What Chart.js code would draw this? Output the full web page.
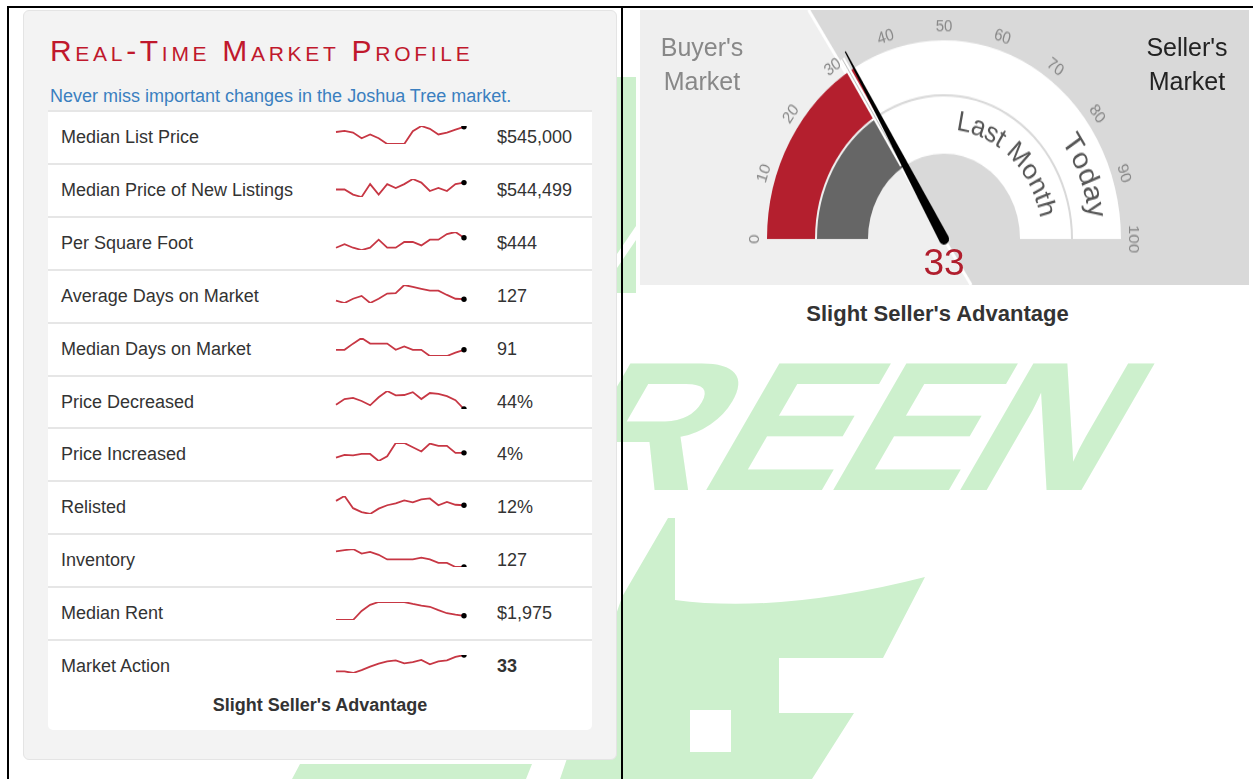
<!DOCTYPE html>
<html>
<head>
<meta charset="utf-8">
<script src="https://cdn.jsdelivr.net/npm/chart.js@4.4.1/dist/chart.umd.min.js"></script>
<style>
  body { margin: 0; width: 1253px; height: 779px; overflow: hidden; background: #fff; position: relative;
         font-family: 'Liberation Sans', Arial, sans-serif; color: #333; }
  .abs { position: absolute; }
  .line { position: absolute; background: #000; z-index: 5; }
  #panel { left: 23px; top: 10px; width: 592px; height: 748px; background: #f3f3f3; border: 1px solid #e4e4e4;
           border-radius: 6px; z-index: 2; }
  #title { left: 50px; top: 36px; font-size: 30px; line-height: 30px; color: #c0182c; font-variant: small-caps;
           letter-spacing: 3.7px; z-index: 3; white-space: nowrap; }
  #subtitle { left: 50px; top: 87px; font-size: 18px; line-height: 18px; color: #3a7fc0; z-index: 3; white-space: nowrap; }
  #card { left: 48px; top: 110px; width: 544px; height: 620px; background: #fff; border-radius: 0 0 5px 5px; z-index: 3; }
  .row { position: absolute; left: 0; width: 544px; height: 53px; border-top: 2px solid #e6e6e6; box-sizing: border-box; }
  .row .lab { position: absolute; left: 13px; top: 0; line-height: 51px; font-size: 18px; white-space: nowrap; }
  .row .val { position: absolute; left: 449px; top: 0; line-height: 51px; font-size: 18px; white-space: nowrap; }
  .row canvas { position: absolute; left: 284px; top: 10px; }
  #foot { left: 48px; width: 544px; top: 692px; text-align: center; font-size: 18px; line-height: 26px; font-weight: bold; z-index: 4; }
  #gaugeWrap { left: 640px; top: 10px; width: 609px; height: 245px; z-index: 2;
               transform: scaleY(1.12245); transform-origin: 0 0; }
  .glabel { position: absolute; width: 130px; text-align: center; font-size: 25px; line-height: 34px; z-index: 4; }
  #gval { left: 894px; top: 244px; width: 100px; text-align: center; font-size: 37px; line-height: 37px; color: #b01e2d; z-index: 4; }
  #gfoot { left: 633px; width: 609px; top: 300px; text-align: center; font-size: 22px; line-height: 28px; font-weight: bold; z-index: 4; }
</style>
</head>
<body>
<svg class="abs" style="left:0;top:0;z-index:0" width="1253" height="779">
  <g fill="#cdf0cd">
    <text transform="translate(0,490) skewX(-30) scale(1.12,1)" x="342.5 485.3 618.4 731.8 845.1" y="0"
          font-family="Liberation Sans" font-weight="bold" font-size="184">GREEN</text>
    <path d="M668,518 L675,518 L675,600 Q780,614 925,577 L883,658 L779,658 L779,713 L854,713 L812,779 L560,779 L622,597 Z"/>
    <path d="M300,764 L532,764 L526,779 L292,779 Z"/>
    <path d="M612,77 L636,77 L636,293 L612,293 Z"/>
  </g>
  <g fill="#fff">
    <rect x="690" y="710" width="41" height="42"/>
    <path d="M636,226 L636,240 L617,268 L617,254 Z"/>
  </g>
</svg>

<div class="line" style="left:7px;top:6px;width:1246px;height:2px"></div>
<div class="line" style="left:7px;top:6px;width:2px;height:773px"></div>
<div class="line" style="left:621px;top:6px;width:2px;height:773px"></div>

<div id="panel" class="abs"></div>
<div id="title" class="abs">Real-Time Market Profile</div>
<div id="subtitle" class="abs">Never miss important changes in the Joshua Tree market.</div>
<div id="card" class="abs"></div>
<div id="foot" class="abs">Slight Seller's Advantage</div>

<div id="gaugeWrap" class="abs"><canvas id="gauge" width="609" height="245"></canvas></div>
<div class="glabel" style="left:637px;top:30px;color:#888">Buyer's<br>Market</div>
<div class="glabel" style="left:1122px;top:30px;color:#222">Seller's<br>Market</div>
<div id="gval" class="abs">33</div>
<div id="gfoot" class="abs">Slight Seller's Advantage</div>

<script>
// ---- data ----
const metricLabels = ['Median List Price', 'Median Price of New Listings', 'Per Square Foot', 'Average Days on Market',
  'Median Days on Market', 'Price Decreased', 'Price Increased', 'Relisted', 'Inventory', 'Median Rent', 'Market Action'];
const metricValues = ['$545,000', '$544,499', '$444', '127', '91', '44%', '4%', '12%', '127', '$1,975', '33'];

const listPrice = [518000, 524000, 515000, 485000, 505000, 485000, 455000, 455000, 455000, 522500, 549500, 534500, 505000, 515000, 530000, 545000];
const newListings = [510000, 510000, 484500, 472500, 537000, 484500, 537000, 517500, 537000, 562500, 544500, 502500, 517500, 502500, 537000, 544499];
const perSqFt = [409, 421, 409, 401, 409, 437, 409, 409, 429, 429, 417, 437, 437, 457, 464, 444];
const avgDays = [124, 119, 128, 134, 119, 128, 139, 140, 157, 153, 149, 145, 145, 136, 128, 127];
const medianDays = [91, 91, 102, 112, 102, 102, 102, 91, 97, 91, 91, 80, 80, 80, 86, 91];
const priceDecreased = [47, 51, 51.8, 49.6, 46.6, 52.2, 56.6, 53.6, 53.8, 55.8, 51, 55.2, 54.6, 53, 50.2, 44];
const priceIncreased = [3.15, 3.65, 3.55, 3.8, 3.8, 2.55, 3.4, 5.75, 5.75, 5.0, 4.25, 5.65, 5.25, 5.25, 4.0, 4.0];
const relisted = [12.9, 13.9, 11.4, 10.6, 10.2, 11.3, 12.0, 12.4, 13.0, 12.6, 13.2, 13.4, 12.0, 12.7, 12.1, 12.0];
const inventory = [154, 156, 158, 150, 153, 148, 140, 140, 140, 140, 143, 140, 134, 134, 127, 127];
const medianRent = [1900, 1900, 1900, 2060, 2170, 2220, 2220, 2220, 2220, 2185, 2155, 2135, 2075, 2020, 1995, 1975];
const marketAction = [24.5, 24.5, 23.7, 25.2, 27, 28.5, 29.7, 30.2, 28.7, 29.3, 30.5, 28.2, 29.7, 30.2, 32, 33];
const sparkSeries = [listPrice, newListings, perSqFt, avgDays, medianDays, priceDecreased, priceIncreased,
  relisted, inventory, medianRent, marketAction];

const gaugeValue = 33;
const lastMonthValue = 32;
const gaugeTicks = [0, 10, 20, 30, 40, 50, 60, 70, 80, 90, 100];
const gaugeStretch = 1.12245; // the gauge picture is drawn a bit taller than wide

// ---- sparklines ----
const card = document.getElementById('card');
const rowH = 52.9;
metricLabels.forEach((label, i) => {
  const row = document.createElement('div');
  row.className = 'row';
  row.style.top = (i * rowH) + 'px';
  const bold = i === metricLabels.length - 1 ? ' style="font-weight:bold"' : '';
  row.innerHTML = `<div class="lab">${label}</div><canvas width="136" height="26"></canvas><div class="val"${bold}>${metricValues[i]}</div>`;
  card.appendChild(row);

  const data = sparkSeries[i];
  const ctx = row.querySelector('canvas').getContext('2d');
  new Chart(ctx, {
    type: 'line',
    data: {
      labels: data.map((d, k) => k),
      datasets: [{
        data: data,
        borderColor: '#c73744',
        borderWidth: 1.8,
        tension: 0,
        pointRadius: data.map((d, k) => k === data.length - 1 ? 2.7 : 0),
        pointBackgroundColor: '#000',
        pointBorderWidth: 0,
      }]
    },
    options: {
      responsive: false,
      animation: false,
      events: [],
      layout: { padding: 3 },
      plugins: { legend: { display: false }, tooltip: { enabled: false } },
      scales: {
        x: { display: false },
        y: { display: false, min: Math.min(...data), max: Math.max(...data) },
      },
    },
  });
});

// ---- gauge ----
const valAngle = v => Math.PI + v / 100 * Math.PI;

const gaugeDecor = {
  id: 'gaugeDecor',
  beforeDraw(chart) {
    const ctx = chart.ctx;
    const arc = chart.getDatasetMeta(0).data[0];
    const cx = arc.x, cy = arc.y;
    const W = chart.width, H = chart.height;
    // split of the backdrop: straight in the final (stretched) picture at the value angle
    const a = gaugeValue / 100 * Math.PI;
    const k = gaugeStretch * Math.cos(a) / Math.sin(a);
    const xTop = cx - cy * k;
    const xBot = cx + (H - cy) * k;
    ctx.save();
    ctx.fillStyle = '#efefef';
    ctx.fillRect(0, 0, W, H);
    ctx.fillStyle = '#d9d9d9';
    ctx.beginPath();
    ctx.moveTo(xTop, 0); ctx.lineTo(W, 0); ctx.lineTo(W, H); ctx.lineTo(xBot, H); ctx.closePath();
    ctx.fill();
    ctx.strokeStyle = '#fff';
    ctx.lineWidth = 3;
    ctx.beginPath(); ctx.moveTo(xTop, 0); ctx.lineTo(xBot, H); ctx.stroke();
    ctx.restore();
  },
  afterDatasetsDraw(chart) {
    const ctx = chart.ctx;
    const arc = chart.getDatasetMeta(0).data[0];
    const cx = arc.x, cy = arc.y;
    ctx.save();

    // last month marker
    const m = valAngle(lastMonthValue);
    const seg = (r1, r2) => { ctx.beginPath(); ctx.moveTo(cx + r1 * Math.cos(m), cy + r1 * Math.sin(m)); ctx.lineTo(cx + r2 * Math.cos(m), cy + r2 * Math.sin(m)); ctx.stroke(); };
    ctx.strokeStyle = '#fff'; ctx.lineWidth = 5; seg(78, 190);
    ctx.strokeStyle = '#bdbdbd'; ctx.lineWidth = 1; seg(78, 190);

    // tick labels
    ctx.fillStyle = '#888';
    ctx.font = '15px "Liberation Sans", Arial, sans-serif';
    ctx.textAlign = 'center';
    ctx.textBaseline = 'middle';
    gaugeTicks.forEach(t => {
      const a = valAngle(t);
      ctx.save();
      ctx.translate(cx + 189 * Math.cos(a), cy + 189 * Math.sin(a));
      ctx.rotate(a + Math.PI / 2);
      ctx.fillText(String(t), 0, 0);
      ctx.restore();
    });

    // curved ring captions
    const arcText = (text, r, startDeg) => {
      let a = Math.PI + startDeg * Math.PI / 180;
      ctx.textBaseline = 'alphabetic';
      for (const ch of text) {
        const w = ctx.measureText(ch).width;
        const ac = a + w / 2 / r;
        ctx.save();
        ctx.translate(cx + r * Math.cos(ac), cy + r * Math.sin(ac));
        ctx.rotate(ac + Math.PI / 2);
        ctx.fillText(ch, 0, 0);
        ctx.restore();
        a += w / r;
      }
    };
    ctx.fillStyle = '#555';
    ctx.font = '25px "Liberation Sans", Arial, sans-serif';
    arcText('Last Month', 98, 97);
    ctx.font = '27px "Liberation Sans", Arial, sans-serif';
    arcText('Today', 146, 143.5);

    // needle
    ctx.translate(cx, cy);
    ctx.rotate(valAngle(gaugeValue));
    ctx.fillStyle = '#000';
    ctx.beginPath();
    ctx.moveTo(0, -5);
    ctx.lineTo(194, -0.6);
    ctx.lineTo(194, 0.6);
    ctx.lineTo(0, 5);
    ctx.arc(0, 0, 5, Math.PI / 2, Math.PI * 1.5);
    ctx.fill();
    ctx.restore();
  }
};

new Chart(document.getElementById('gauge').getContext('2d'), {
  type: 'doughnut',
  data: {
    labels: ['value', 'rest', 'gap'],
    datasets: [
      { data: [gaugeValue, 100 - gaugeValue], backgroundColor: ['#b41f2e', '#ffffff'], borderWidth: 0, weight: 48 },
      { data: [100], backgroundColor: ['rgba(0,0,0,0)'], borderWidth: 0, weight: 2 },
      { data: [lastMonthValue, gaugeValue - lastMonthValue, 100 - gaugeValue],
        backgroundColor: ['#666666', 'rgba(0,0,0,0)', '#ffffff'], borderWidth: 0, weight: 51 },
    ]
  },
  options: {
    responsive: false,
    animation: false,
    events: [],
    rotation: -90,
    circumference: 180,
    radius: 177,
    cutout: (76 / 177 * 100) + '%',
    layout: { padding: { left: 127, right: 128, top: 27, bottom: 41 } },
    plugins: { legend: { display: false }, tooltip: { enabled: false } },
  },
  plugins: [gaugeDecor],
});
</script>
</body>
</html>
